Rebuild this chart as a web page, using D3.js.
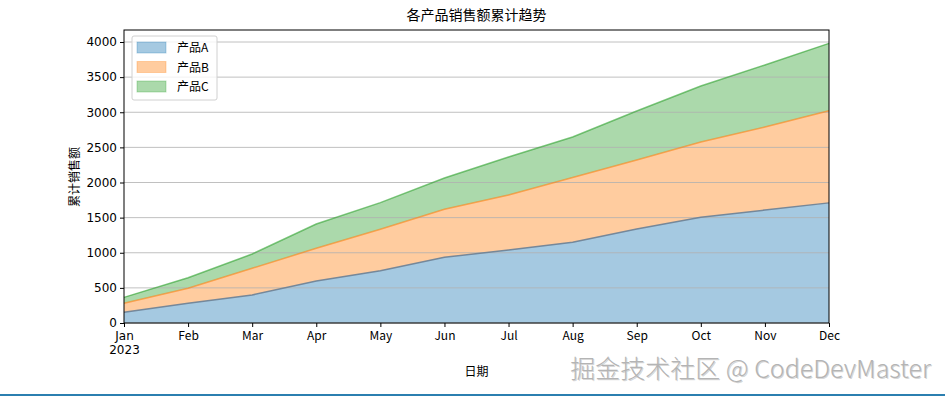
<!DOCTYPE html>
<html>
<head>
<meta charset="utf-8">
<script src="https://cdn.jsdelivr.net/npm/d3@7"></script>
<style>
  body { margin: 0; background: #fff; }
  svg { display: block; }
  .cjk { font-family: "Noto Sans CJK SC", sans-serif; }
  .num { font-family: "DejaVu Sans", sans-serif; }
</style>
</head>
<body>
<script>
(function(){

    /////////// DATA //////////
    const months = ["Jan","Feb","Mar","Apr","May","Jun","Jul","Aug","Sep","Oct","Nov","Dec"];
    const products = ["产品A","产品B","产品C"];
    // cumulative sales per product
    const cumA = [152, 280, 399, 598, 745, 935, 1039, 1149, 1338, 1504, 1608, 1710];
    const cumB = [128, 214, 380, 465, 589, 685, 783, 921, 982, 1073, 1182, 1312];
    const cumC = [85, 151, 203, 346, 379, 444, 541, 578, 698, 797, 883, 959];
    const yTicks = [0, 500, 1000, 1500, 2000, 2500, 3000, 3500, 4000];
    const colors = ["#1f77b4", "#ff7f0e", "#2ca02c"];

    /////////// LAYOUT //////////
    const width = 945, height = 396;
    const margin = {left: 124, right: 116, top: 30, bottom: 73};
    const plotW = width - margin.left - margin.right;
    const plotH = height - margin.top - margin.bottom;

    const svg = d3.select("body").append("svg")
        .attr("width", width)
        .attr("height", height);

    const rows = months.map((m, i) => ({month: m, "产品A": cumA[i], "产品B": cumB[i], "产品C": cumC[i]}));
    const series = d3.stack().keys(products)(rows);

    const x = d3.scalePoint().domain(months).range([0, plotW]);
    const y = d3.scaleLinear().domain([0, 4171]).range([plotH, 0]);

    const g = svg.append("g").attr("transform", `translate(${margin.left},${margin.top})`);

    // filled areas
    const area = d3.area()
        .x(d => x(d.data.month))
        .y0(d => y(d[0]))
        .y1(d => y(d[1]));
    g.selectAll(".area")
        .data(series)
        .enter().append("path")
        .attr("class", "area")
        .attr("d", area)
        .attr("fill", (d, i) => colors[i])
        .attr("fill-opacity", 0.4);

    // horizontal grid
    g.selectAll(".grid")
        .data(yTicks)
        .enter().append("line")
        .attr("x1", 0).attr("x2", plotW)
        .attr("y1", d => y(d)).attr("y2", d => y(d))
        .attr("stroke", "#b0b0b0")
        .attr("stroke-width", 0.8);

    // top edge lines
    const line = d3.line()
        .x(d => x(d.data.month))
        .y(d => y(d[1]));
    g.selectAll(".edge")
        .data(series)
        .enter().append("path")
        .attr("d", line)
        .attr("fill", "none")
        .attr("stroke", (d, i) => i === 0 ? "#6a7f95" : colors[i])
        .attr("stroke-opacity", (d, i) => i === 0 ? 0.9 : 0.6)
        .attr("stroke-width", 1.5);

    // frame
    g.append("rect")
        .attr("width", plotW).attr("height", plotH)
        .attr("fill", "none").attr("stroke", "#000").attr("stroke-width", 1);

    // y axis
    const yAxis = g.append("g")
        .call(d3.axisLeft(y).tickValues(yTicks).tickFormat(d3.format("d")).tickSize(4).tickPadding(3));
    yAxis.select(".domain").remove();
    yAxis.selectAll("text").attr("class", "num").style("font-size", "12px").attr("fill", "#000");

    // x axis
    const xAxis = g.append("g")
        .attr("transform", `translate(0,${plotH})`)
        .call(d3.axisBottom(x).tickSize(4).tickPadding(4));
    xAxis.select(".domain").remove();
    xAxis.selectAll("text")
        .attr("class", (d, i) => i === 0 ? "num" : "cjk")
        .style("font-size", "12px")
        .attr("fill", "#000");
    xAxis.selectAll(".tick").filter((d, i) => i === 0).append("text")
        .attr("class", "num")
        .attr("y", 22).attr("dy", "0.71em")
        .attr("fill", "#000")
        .style("font-size", "12px")
        .text("2023");

    // legend
    const legend = svg.append("g").attr("transform", "translate(132,36)");
    legend.append("rect")
        .attr("width", 85).attr("height", 64).attr("rx", 2)
        .attr("fill", "#fff").attr("fill-opacity", 0.8)
        .attr("stroke", "#d0d0d0");
    products.forEach((p, i) => {
        legend.append("rect")
            .attr("x", 5).attr("y", 6 + i * 19.5)
            .attr("width", 29).attr("height", 11)
            .attr("fill", colors[i]).attr("fill-opacity", 0.4)
            .attr("stroke", colors[i]).attr("stroke-opacity", 0.3);
        legend.append("text")
            .attr("class", "cjk")
            .attr("x", 45).attr("y", 12 + i * 19.5)
            .attr("dy", "0.35em")
            .style("font-size", "12px")
            .text(p);
    });

    // titles
    svg.append("text")
        .attr("class", "cjk")
        .attr("x", margin.left + plotW / 2).attr("y", 20)
        .attr("text-anchor", "middle")
        .style("font-size", "14px")
        .text("各产品销售额累计趋势");
    svg.append("text")
        .attr("class", "cjk")
        .attr("x", margin.left + plotW / 2).attr("y", 376)
        .attr("text-anchor", "middle")
        .style("font-size", "12px")
        .text("日期");
    svg.append("text")
        .attr("class", "cjk")
        .attr("transform", "translate(79,177) rotate(-90)")
        .attr("text-anchor", "middle")
        .attr("fill", "#000")
        .style("font-size", "12px")
        .text("累计销售额");

    // watermark
    const mark = "掘金技术社区 @ CodeDevMaster";
    svg.append("text")
        .attr("class", "cjk")
        .attr("x", 932).attr("y", 379)
        .attr("text-anchor", "end")
        .attr("fill", "#777")
        .attr("fill-opacity", 0.3)
        .style("font-size", "25px")
        .style("font-weight", 300)
        .text(mark);
    svg.append("text")
        .attr("class", "cjk")
        .attr("x", 931).attr("y", 378)
        .attr("text-anchor", "end")
        .attr("fill", "#b4b4b4")
        .style("font-size", "25px")
        .style("font-weight", 300)
        .text(mark);

    // bottom strip
    svg.append("rect")
        .attr("x", 0).attr("y", 394).attr("width", width).attr("height", 2)
        .attr("fill", "#2b7fb0");
})();
</script>
</body>
</html>
